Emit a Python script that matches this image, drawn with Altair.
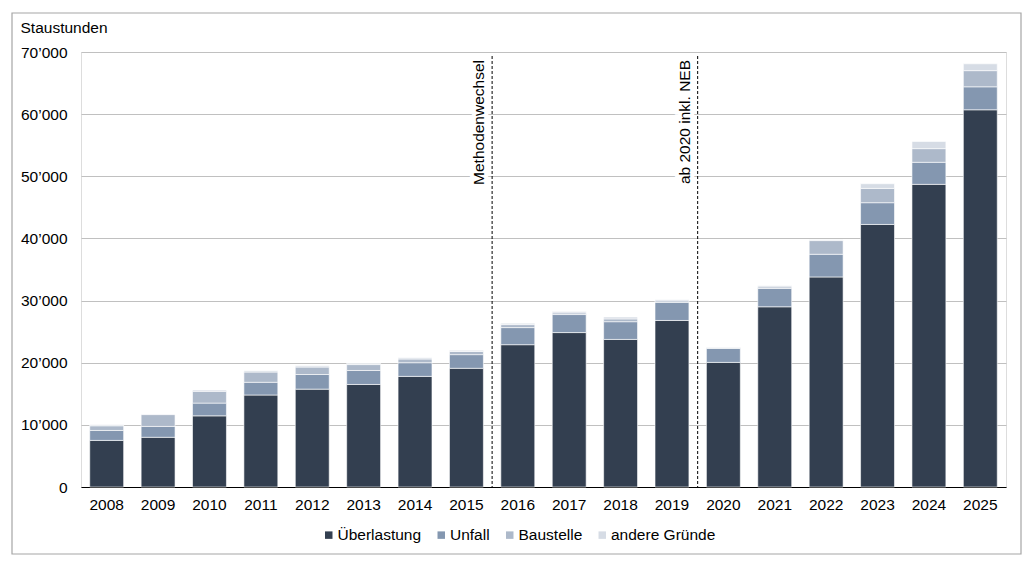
import altair as alt
import pandas as pd

years = [str(y) for y in range(2008, 2026)]
ueberlastung = [7500, 8000, 11450, 14800, 15750, 16500, 17800, 19100, 22900, 24850,
                23750, 26800, 20050, 29000, 33800, 42250, 48700, 60700]
unfall = [1600, 1750, 2050, 2050, 2350, 2250, 2200, 2200, 2750, 2900,
          2850, 2900, 2250, 2950, 3650, 3500, 3550, 3700]
baustelle = [750, 1900, 1900, 1650, 1200, 950, 600, 500, 480, 270,
             450, 250, 100, 250, 2200, 2300, 2200, 2600]
andere = [150, 100, 200, 220, 200, 200, 200, 200, 220, 210,
          300, 200, 100, 200, 150, 750, 1150, 1100]
categories = ["Überlastung", "Unfall", "Baustelle", "andere Gründe"]
colors = ["#333F50", "#8497B0", "#ADB9CA", "#D6DCE5"]

# annotation markers: boundary before 2016 and before 2020 (index in year list)
marker_pos = [8, 12]
marker_texts = ["Methodenwechsel", "ab 2020 inkl. NEB"]

rows = []
for ci, (cat, vals) in enumerate(zip(categories, [ueberlastung, unfall, baustelle, andere])):
    for y, v in zip(years, vals):
        rows.append({"Jahr": y, "Grund": cat, "Wert": v, "idx": ci})
df = pd.DataFrame(rows)
mk = pd.DataFrame({"pos": marker_pos, "label": marker_texts})

W, H = 925, 435
FONT = "Liberation Sans"
FS = 15.5
pi = 0.34

xscale = alt.Scale(domain=years, paddingInner=pi, paddingOuter=pi / 2)

bars = alt.Chart(df).mark_bar(stroke="white", strokeWidth=0.6).encode(
    x=alt.X("Jahr:N", scale=xscale, sort=years,
            axis=alt.Axis(title=None, labelAngle=0, ticks=False, domain=True,
                          domainColor="#000000", domainWidth=1.2, labelPadding=10,
                          labelFontSize=FS, labelColor="#000000", labelFont=FONT)),
    y=alt.Y("Wert:Q", stack="zero",
            scale=alt.Scale(domain=[0, 70000], nice=False),
            axis=alt.Axis(values=list(range(0, 70001, 10000)), title="Staustunden",
                          titleAngle=0, titleAlign="left", titleBaseline="bottom",
                          titleX=-61, titleY=-17, titleFontSize=FS, titleFontWeight="normal",
                          titleColor="#000000", titleFont=FONT,
                          labelExpr="replace(format(datum.value, ','), ',', '’')",
                          labelFontSize=FS, labelColor="#000000", labelFont=FONT,
                          labelPadding=14, ticks=False, domain=False,
                          grid=True, gridColor="#C0C0C0", gridWidth=1.2)),
    color=alt.Color("Grund:N", scale=alt.Scale(domain=categories, range=colors),
                    legend=alt.Legend(title=None, orient="none", direction="horizontal",
                                      legendX=240, legendY=475, padding=0,
                                      symbolType="square", symbolSize=56, symbolStrokeWidth=0,
                                      labelFontSize=FS, labelFont=FONT, labelColor="#000000",
                                      columnPadding=11.5, labelOffset=1)),
    order=alt.Order("idx:Q", sort="ascending"),
)

qx = alt.Scale(domain=[0, len(years)], nice=False, zero=False)

rules = alt.Chart(mk).mark_rule(color="#000000", strokeDash=[3, 2], strokeWidth=1).encode(
    x=alt.X("pos:Q", scale=qx, axis=None),
    y=alt.value(4),
    y2=alt.value(H),
)

text_bg = alt.Chart(mk).mark_text(angle=270, align="right", baseline="bottom",
                                  fontSize=FS, font=FONT, dx=0, dy=-5,
                                  stroke="white", strokeWidth=8, fill="white").encode(
    x=alt.X("pos:Q", scale=qx, axis=None),
    y=alt.value(8),
    text="label:N",
)
text_fg = alt.Chart(mk).mark_text(angle=270, align="right", baseline="bottom",
                                  fontSize=FS, font=FONT, dx=0, dy=-5,
                                  color="#000000").encode(
    x=alt.X("pos:Q", scale=qx, axis=None),
    y=alt.value(8),
    text="label:N",
)

frame = alt.Chart(pd.DataFrame({"a": [0]})).mark_rect(
    fill=None, stroke="#A6A6A6", strokeWidth=1.2, clip=False).encode(
    x=alt.value(-69), x2=alt.value(940), y=alt.value(-39), y2=alt.value(502))

chart = alt.layer(frame, bars, text_bg, text_fg, rules).resolve_scale(
    x="independent").properties(
    width=W, height=H,
    autosize=alt.AutoSizeParams(type="none"),
    padding={"left": 73, "top": 44, "right": 17, "bottom": 68},
).configure_view(stroke=None).configure(font=FONT)

chart.save("out.html", embed_options={"renderer": "svg", "actions": False})
